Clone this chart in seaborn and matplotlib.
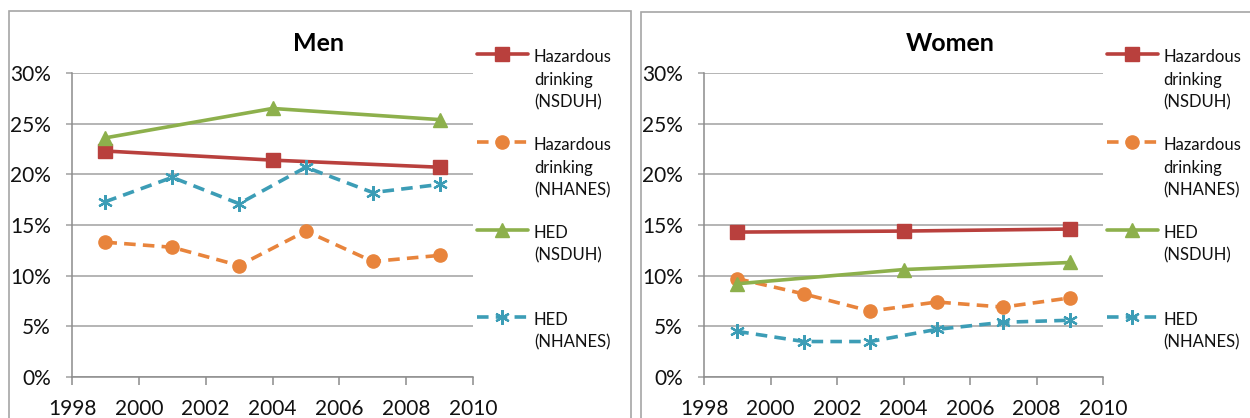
import matplotlib
matplotlib.use("Agg")
import matplotlib.pyplot as plt
import seaborn as sns
import pandas as pd
from matplotlib.patches import Rectangle
from matplotlib.lines import Line2D

sns.set_theme(style="white")
plt.rcParams['font.family'] = ['Lato', 'DejaVu Sans']

# ---- data ----
years_nsduh = [1999, 2004, 2009]
years_nhanes = [1999, 2001, 2003, 2005, 2007, 2009]

men_haz_nsduh = [22.3, 21.4, 20.7]
men_haz_nhanes = [13.3, 12.8, 11.0, 14.4, 11.4, 12.0]
men_hed_nsduh = [23.6, 26.5, 25.4]
men_hed_nhanes = [17.3, 19.7, 17.1, 20.7, 18.2, 19.0]

women_haz_nsduh = [14.3, 14.4, 14.6]
women_haz_nhanes = [9.7, 8.2, 6.5, 7.4, 6.9, 7.8]
women_hed_nsduh = [9.2, 10.6, 11.3]
women_hed_nhanes = [4.5, 3.5, 3.5, 4.7, 5.4, 5.6]

series_labels = ["Hazardous\ndrinking\n(NSDUH)", "Hazardous\ndrinking\n(NHANES)",
                 "HED\n(NSDUH)", "HED\n(NHANES)"]
panel_titles = ["Men", "Women"]
x_ticks = [1998, 2000, 2002, 2004, 2006, 2008, 2010]
y_ticks = [0, 5, 10, 15, 20, 25, 30]

colors = ["#B9403D", "#E8843C", "#8DB04C", "#3C9DB6"]
markers = ["s", "o", "^", (6, 2, 0)]
msizes = [9.5, 9.5, 9.5, 10.5]
dashed = [False, True, False, True]

panels = [
    [(years_nsduh, men_haz_nsduh), (years_nhanes, men_haz_nhanes),
     (years_nsduh, men_hed_nsduh), (years_nhanes, men_hed_nhanes)],
    [(years_nsduh, women_haz_nsduh), (years_nhanes, women_haz_nhanes),
     (years_nsduh, women_hed_nsduh), (years_nhanes, women_hed_nhanes)],
]

fig = plt.figure(figsize=(12.5, 4.18), dpi=100)
fig.patch.set_facecolor("white")

# panel frames
fig.add_artist(Rectangle((0.007, -0.2), 0.4976, 1.1737, transform=fig.transFigure,
                         fill=False, edgecolor="#A6A6A6", linewidth=1.2))
fig.add_artist(Rectangle((0.5128, -0.2), 0.6, 1.171, transform=fig.transFigure,
                         fill=False, edgecolor="#A6A6A6", linewidth=1.2))

axes_pos = [[0.0576, 0.0981, 0.3208, 0.7273], [0.5632, 0.0981, 0.3192, 0.7273]]
title_x = [0.255, 0.76]
leg_y = [1.0625, 0.773, 0.4836, 0.197]

for p, series in enumerate(panels):
    ax = fig.add_axes(axes_pos[p])
    ax.set_facecolor("white")
    for i, (xs, ys) in enumerate(series):
        df = pd.DataFrame({"year": xs, "value": ys})
        sns.lineplot(data=df, x="year", y="value", ax=ax, color=colors[i],
                     marker=markers[i], markersize=msizes[i],
                     markeredgecolor=colors[i], markerfacecolor=colors[i],
                     markeredgewidth=1.6 if i == 3 else 1,
                     linewidth=2.6, errorbar=None, zorder=3 + i)
        line = ax.get_lines()[-1]
        if dashed[i]:
            line.set_dashes((3.2, 2.0))
        line.set_solid_capstyle("butt")
        line.set_dash_capstyle("butt")
        # legend entry
        lg = Line2D([1.01, 1.072, 1.137], [leg_y[i]] * 3, transform=ax.transAxes,
                    color=colors[i], linewidth=2.6, marker=markers[i],
                    markersize=msizes[i], markevery=[1],
                    markeredgecolor=colors[i], markerfacecolor=colors[i],
                    markeredgewidth=1.6 if i == 3 else 1, clip_on=False)
        if dashed[i]:
            lg.set_dashes((3.2, 2.0))
        ax.add_line(lg)
        ax.text(1.152, leg_y[i] + 0.016, series_labels[i], transform=ax.transAxes,
                ha="left", va="top", fontsize=12, color="#111111",
                linespacing=1.5, clip_on=False)
    ax.set_xlim(1998, 2010)
    ax.set_ylim(0, 30)
    ax.set_xticks(x_ticks)
    ax.set_yticks(y_ticks)
    ax.set_yticklabels([f"{v}%" for v in y_ticks])
    ax.set_xlabel("")
    ax.set_ylabel("")
    ax.grid(axis="y", color="#A0A0A0", linewidth=1.1)
    ax.grid(axis="x", visible=False)
    for s in ["top", "right"]:
        ax.spines[s].set_visible(False)
    for s in ["left", "bottom"]:
        ax.spines[s].set_color("#8C8C8C")
        ax.spines[s].set_linewidth(1.1)
    ax.tick_params(axis="y", which="both", direction="out", length=4.3, width=1.1,
                   color="#A0A0A0", pad=11, labelsize=15, labelcolor="#111111", left=True)
    ax.tick_params(axis="x", which="both", direction="out", length=5.5, width=1.1,
                   color="#8C8C8C", pad=10, labelsize=15, labelcolor="#111111", bottom=True)
    fig.text(title_x[p], 0.897, panel_titles[p], ha="center", va="center",
             fontsize=18, fontweight="bold", color="#000000")

fig.savefig("out.png", dpi=100, facecolor="white")
